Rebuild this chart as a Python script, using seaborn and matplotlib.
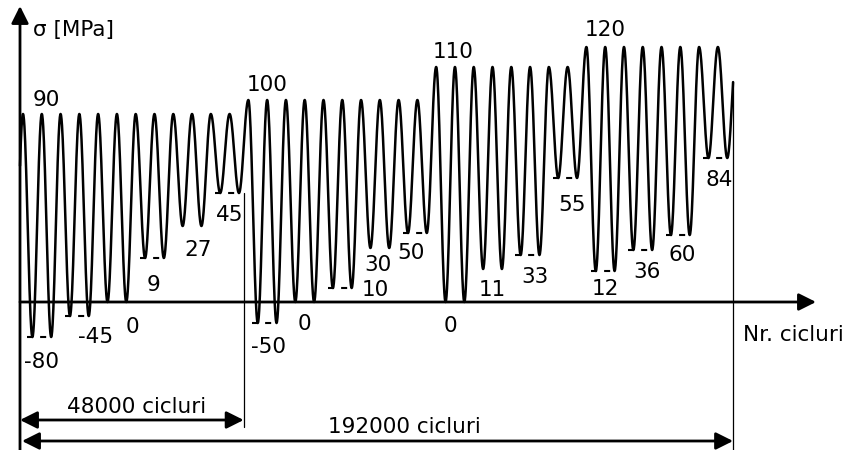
import numpy as np
import pandas as pd
import matplotlib
matplotlib.use("Agg")
import matplotlib.pyplot as plt
import seaborn as sns

# ---------------- data (read from the schematic) ----------------
# stress labels written on the drawing [MPa]
block_max_labels = [90, 100, 110, 120]
block_min_labels = [[-80, -45, 0, 9, 27, 45],
                    [-50, 0, 10, 30, 50],
                    [0, 11, 33, 55],
                    [12, 36, 60, 84]]
# drawn heights on the (not-to-scale) schematic, in drawing units above the N axis
block_max_drawn = [188, 202, 235, 255]
block_min_drawn = [[-35, -14, 0, 44, 76, 109],
                   [-21, 0, 14, 54, 69],
                   [0, 33, 47, 124],
                   [31, 52, 67, 144]]
cycles_per_level = 2
span_labels = ["48000 cicluri", "192000 cicluri"]
y_label = "σ [MPa]"
x_label = "Nr. cicluri"

# ---------------- layout ----------------
PXC = 18.78          # pixels per drawn cycle
X0, Y0 = 20, 302     # pixel position of the origin
PHASE0 = 0.16        # first peak, in cycles after the origin
X_END = 37.97        # end of the drawn history (cycles)
FS = 15.5
# label offsets (dx px, distance below valley px) per valley label
valley_off = [[(0, 23), (16, 19), (16, 23), (-1, 25), (6, 22), (0, 20)],
              [(1, 22), (0, 20), (33, 0), (-2, 15), (-6, 18)],
              [(-5, 22), (0, 19), (5, 20), (4, 25)],
              [(0, 16), (4, 20), (2, 18), (1, 20)]]
peak_off = [(5, 16), (0, 17), (-2, 17), (0, 19)]
DASHED = [[True, True, False, True, False, True],
          [True, False, True, False, True],
          [False, False, True, True],
          [True, True, True, True]]


def cx(px):
    return (px - X0) / PXC


def cy(py):
    return Y0 - py


sns.set_theme(style="white")
plt.rcParams["font.family"] = ["DejaVu Sans"]

fig = plt.figure(figsize=(8.48, 4.5), dpi=100)
ax = fig.add_axes([0, 0, 1, 1])
ax.set_xlim(cx(0), cx(848))
ax.set_ylim(cy(450), cy(0))
ax.axis("off")

# ---- build the load history from the extremes ----
peaks, valleys = [], []
for pk, mins in zip(block_max_drawn, block_min_drawn):
    for m in mins:
        for _ in range(cycles_per_level):
            peaks.append(pk)
            valleys.append(m)
n = len(peaks)
ex_x = [PHASE0 - 0.5]
ex_y = [valleys[0]]
for k in range(n):
    ex_x += [PHASE0 + k, PHASE0 + k + 0.5]
    ex_y += [peaks[k], valleys[k]]
ex_x.append(PHASE0 + n)
ex_y.append(peaks[-1])

t = np.linspace(0, 1, 40)
xs, ys = [], []
for i in range(len(ex_x) - 1):
    xs.append(ex_x[i] + t * (ex_x[i + 1] - ex_x[i]))
    ys.append(ex_y[i] + (ex_y[i + 1] - ex_y[i]) * (1 - np.cos(np.pi * t)) / 2)
xs = np.concatenate(xs)
ys = np.concatenate(ys)
y_end = float(np.interp(X_END, xs, ys))
y_start = float(np.interp(0, xs, ys))
mask = (xs > 0) & (xs < X_END)
df = pd.DataFrame({"n": np.r_[0, xs[mask], X_END],
                   "s": np.r_[y_start, ys[mask], y_end]})
sns.lineplot(data=df, x="n", y="s", ax=ax, color="black", lw=1.8,
             sort=False, estimator=None, legend=False)

# ---- dashes and labels at valleys, labels at peaks ----
k0 = 0
for b, mins in enumerate(block_min_drawn):
    first_peak = PHASE0 + k0
    dx, up = peak_off[b]
    ax.annotate(str(block_max_labels[b]), xy=(first_peak + 1, block_max_drawn[b]),
                xytext=(dx, up - 7.6), textcoords="offset pixels",
                ha="center", va="baseline", fontsize=FS, color="black")
    for j, lvl in enumerate(mins):
        v1 = PHASE0 + k0 + 0.5
        v2 = v1 + 1
        if DASHED[b][j]:
            ax.plot([v1 - 0.28, v2 + 0.02], [lvl, lvl], color="black", lw=1.5,
                    dashes=(2.9, 3.4), solid_capstyle="butt")
        dx, down = valley_off[b][j]
        ax.annotate(str(block_min_labels[b][j]), xy=((v1 + v2) / 2, lvl),
                    xytext=(dx, -down - 7.6), textcoords="offset pixels",
                    ha="center", va="baseline", fontsize=FS, color="black")
        k0 += cycles_per_level

c_block1 = PHASE0 + len(block_min_drawn[0]) * cycles_per_level - 0.25

# ---- axes with arrows ----
head = "-|>,head_length=0.4,head_width=0.2"
ax.annotate("", xy=(0, cy(6)), xytext=(0, cy(450)),
            arrowprops=dict(arrowstyle=head, mutation_scale=26, lw=2.0,
                            color="black", shrinkA=0, shrinkB=0))
ax.annotate("", xy=(cx(816), 0), xytext=(0, 0),
            arrowprops=dict(arrowstyle=head, mutation_scale=26, lw=2.0,
                            color="black", shrinkA=0, shrinkB=0))

# ---- thin reference lines ----
ax.plot([c_block1, c_block1], [block_min_drawn[0][-1], cy(427)], color="black", lw=0.9)
ax.plot([X_END, X_END], [y_end, cy(450)], color="black", lw=0.9)

# ---- span arrows ----
dhead = "<|-|>,head_length=0.4,head_width=0.2"
ax.annotate("", xy=(c_block1, cy(420)), xytext=(0, cy(420)),
            arrowprops=dict(arrowstyle=dhead, mutation_scale=26, lw=2.0,
                            color="black", shrinkA=0, shrinkB=0))
ax.annotate("", xy=(X_END, cy(441)), xytext=(cx(22), cy(441)),
            arrowprops=dict(arrowstyle=dhead, mutation_scale=26, lw=2.0,
                            color="black", shrinkA=0, shrinkB=0))
ax.text(c_block1 / 2 + 0.25, cy(413), span_labels[0], ha="center", va="baseline",
        fontsize=FS, color="black")
ax.text(cx(404), cy(433), span_labels[1], ha="center", va="baseline",
        fontsize=FS, color="black")

# ---- axis titles ----
ax.text(cx(33), cy(36), y_label, ha="left", va="baseline", fontsize=FS, color="black")
ax.text(cx(743), cy(341), x_label, ha="left", va="baseline", fontsize=FS, color="black")

fig.savefig("out.png", dpi=100, facecolor="white")
